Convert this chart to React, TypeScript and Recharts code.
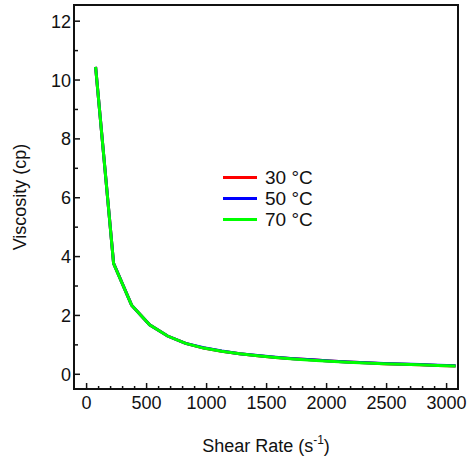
import React from "react"
import { LineChart, Line, XAxis, YAxis, ReferenceArea } from "recharts"

// shear rate (s^-1) and viscosity (cp)
const shearRate = [75, 225, 375, 525, 675, 825, 975, 1125, 1275, 1425, 1575, 1725, 1875, 2025, 2175, 2325, 2475, 2625, 2775, 2925, 3075]
const visc30 = [10.45, 3.77, 2.35, 1.68, 1.3, 1.05, 0.89, 0.78, 0.7, 0.63, 0.57, 0.53, 0.49, 0.45, 0.42, 0.39, 0.36, 0.34, 0.32, 0.3, 0.28]
const visc50 = [10.45, 3.77, 2.35, 1.68, 1.3, 1.05, 0.9, 0.79, 0.7, 0.64, 0.58, 0.53, 0.49, 0.45, 0.42, 0.39, 0.37, 0.35, 0.33, 0.31, 0.29]
const visc70 = [10.45, 3.76, 2.35, 1.68, 1.3, 1.05, 0.89, 0.78, 0.7, 0.63, 0.57, 0.52, 0.48, 0.44, 0.41, 0.38, 0.36, 0.34, 0.32, 0.3, 0.28]

const seriesNames = ["30 °C", "50 °C", "70 °C"]
const seriesColors = ["#ff0000", "#0000ff", "#00ff00"]

const xMajor = [0, 500, 1000, 1500, 2000, 2500, 3000]
const yMajor = [0, 2, 4, 6, 8, 10, 12]
const xTicks = Array.from({ length: 31 }, (_, i) => i * 100)
const yTicks = Array.from({ length: 13 }, (_, i) => i)

const FONT = "'Liberation Sans', Arial, sans-serif"
const INK = "#111"

const data = shearRate.map((x, i) => ({
  x,
  [seriesNames[0]]: visc30[i],
  [seriesNames[1]]: visc50[i],
  [seriesNames[2]]: visc70[i]
}))

function XTick(props: any) {
  const { x, y, payload } = props
  const major = xMajor.includes(payload.value)
  return (
    <g>
      <line x1={x} x2={x} y1={y} y2={y - (major ? 6 : 3)} stroke={INK} strokeWidth={1.5} />
      {major && (
        <text x={x} y={y + 20} textAnchor="middle" fontSize={18} fontFamily={FONT} fill={INK}>
          {payload.value}
        </text>
      )}
    </g>
  )
}

function YTick(props: any) {
  const { x, y, payload } = props
  const major = yMajor.includes(payload.value)
  return (
    <g>
      <line x1={x} x2={x + (major ? 6 : 4)} y1={y} y2={y} stroke={INK} strokeWidth={1.5} />
      {major && (
        <text x={x - 3} y={y} dy="0.36em" textAnchor="end" fontSize={18} fontFamily={FONT} fill={INK}>
          {payload.value}
        </text>
      )}
    </g>
  )
}

// legend sits over the plot, it does not take space from it
function LegendBox() {
  return (
    <div style={{ position: "absolute", left: 223, top: 167, fontFamily: FONT, fontSize: 19, color: INK }}>
      {seriesNames.map((n, i) => (
        <div key={n} style={{ display: "flex", alignItems: "center", height: 21 }}>
          <span style={{ width: 34, height: 3, background: seriesColors[i], marginRight: 8 }} />
          {n}
        </div>
      ))}
    </div>
  )
}

export default function App() {
  return (
    <div style={{ position: "absolute", left: 0, top: 0, width: 469, height: 462 }}>
      <LineChart width={469} height={462} data={data} margin={{ top: 5, right: 11, left: 0, bottom: 0 }}>
        <XAxis
          dataKey="x"
          type="number"
          domain={[-105, 3095]}
          allowDataOverflow
          ticks={xTicks}
          interval={0}
          tick={<XTick />}
          tickSize={0}
          tickMargin={0}
          tickLine={false}
          axisLine={false}
          height={73}
          label={{
            content: ({ viewBox }: any) => (
              <text
                x={viewBox.x + viewBox.width / 2}
                y={452}
                textAnchor="middle"
                fontSize={18}
                fontFamily={FONT}
                fill={INK}
              >
                Shear Rate (s
                <tspan fontSize={12} dy={-8}>-1</tspan>
                <tspan dy={8}>)</tspan>
              </text>
            )
          }}
        />
        <YAxis
          type="number"
          domain={[-0.5, 12.55]}
          allowDataOverflow
          ticks={yTicks}
          interval={0}
          tick={<YTick />}
          tickSize={0}
          tickMargin={0}
          tickLine={false}
          axisLine={false}
          width={74}
          label={{
            content: ({ viewBox }: any) => {
              const cy = viewBox.y + viewBox.height / 2
              return (
                <text
                  x={20}
                  y={cy}
                  transform={`rotate(-90 20 ${cy})`}
                  textAnchor="middle"
                  dominantBaseline="central"
                  fontSize={18}
                  fontFamily={FONT}
                  fill={INK}
                >
                  Viscosity (cp)
                </text>
              )
            }
          }}
        />
        <ReferenceArea
          x1={-105}
          x2={3095}
          y1={-0.5}
          y2={12.55}
          ifOverflow="visible"
          fill="none"
          fillOpacity={0}
          stroke={INK}
          strokeWidth={2}
        />
        {seriesNames.map((n, i) => (
          <Line
            key={n}
            type="linear"
            dataKey={n}
            stroke={seriesColors[i]}
            strokeWidth={3}
            dot={false}
            isAnimationActive={false}
          />
        ))}
      </LineChart>
      <LegendBox />
    </div>
  )
}
